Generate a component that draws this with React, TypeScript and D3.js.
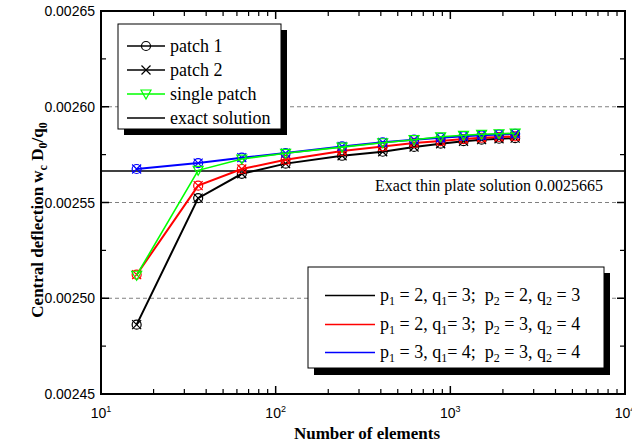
import React from "react";
import * as d3 from "d3";

const elements = [16, 36, 64, 114, 240, 410, 620, 880, 1190, 1510, 1900, 2350];
const black = [0.0024862, 0.0025523, 0.002565, 0.0025703, 0.0025744, 0.0025765, 0.002579, 0.0025807, 0.002582, 0.0025828, 0.0025833, 0.0025836];
const red = [0.0025123, 0.0025588, 0.0025675, 0.0025723, 0.0025769, 0.0025793, 0.0025811, 0.0025821, 0.0025831, 0.0025838, 0.0025842, 0.0025845];
const blue = [0.0025675, 0.0025706, 0.0025734, 0.0025758, 0.0025793, 0.0025814, 0.0025828, 0.0025838, 0.0025846, 0.0025851, 0.0025855, 0.0025859];
const green = [0.002512, 0.0025668, 0.0025727, 0.0025757, 0.0025789, 0.0025812, 0.0025828, 0.0025843, 0.0025851, 0.0025856, 0.0025859, 0.0025862];
const exactValue = 0.0025665;
const yTicks = [0.00245, 0.0025, 0.00255, 0.0026, 0.00265];
const yMinor = [0.002475, 0.002525, 0.002575, 0.002625];
const gridVals = [0.0025, 0.00255, 0.0026];
const xDecades = [1, 2, 3, 4];

const serif = "'Liberation Serif', 'Times New Roman', serif";
const sans = "'Liberation Sans', Arial, sans-serif";

export default function App() {
  const W = 632, H = 448;
  const x = d3.scaleLog().domain([10, 10000]).range([101, 625]);
  const y = d3.scaleLinear().domain([0.00245, 0.00265]).range([394, 11]);
  const line = d3.line<number>().x((_, i) => x(elements[i])).y((d) => y(d));

  const xMinor: number[] = [];
  for (let e = 1; e < 4; e++) for (let k = 2; k <= 9; k++) xMinor.push(k * Math.pow(10, e));

  const series = [
    { vals: black, color: "#000000", w: 2 },
    { vals: red, color: "#ff0000", w: 2 },
    { vals: blue, color: "#0000ff", w: 2 },
  ];

  const circle = (cx: number, cy: number, c: string, k: string) => (
    <circle key={k} cx={cx} cy={cy} r={4.5} fill="none" stroke={c} strokeWidth={1.2} />
  );
  const cross = (cx: number, cy: number, c: string, k: string) => (
    <path key={k} d={`M${cx - 4.5},${cy - 4.5}L${cx + 4.5},${cy + 4.5}M${cx - 4.5},${cy + 4.5}L${cx + 4.5},${cy - 4.5}`} stroke={c} strokeWidth={1.2} fill="none" />
  );
  const tri = (cx: number, cy: number, c: string, k: string) => (
    <path key={k} d={`M${cx - 5},${cy - 4}L${cx + 5},${cy - 4}L${cx},${cy + 5}Z`} stroke={c} strokeWidth={1.2} fill="none" />
  );

  const sub = (t: string) => (
    <tspan baselineShift="-30%" fontSize="12">{t}</tspan>
  );

  const leg2 = [
    { color: "#000000", a: "2", b: "3", c: "2", d: "3" },
    { color: "#ff0000", a: "2", b: "3", c: "3", d: "4" },
    { color: "#0000ff", a: "3", b: "4", c: "3", d: "4" },
  ];

  return (
    <svg width={W} height={H} style={{ position: "absolute", left: 0, top: 0, background: "#fff" }}>
      <rect x={0} y={0} width={W} height={H} fill="#fff" />
      {gridVals.map((v) => (
        <line key={"g" + v} x1={101} x2={625} y1={y(v)} y2={y(v)} stroke="#808080" strokeWidth={1} strokeDasharray="4,3" />
      ))}
      <line x1={101} x2={625} y1={y(exactValue)} y2={y(exactValue)} stroke="#000" strokeWidth={1.5} />
      <text x={603} y={191} textAnchor="end" fontFamily={serif} fontSize={16}>Exact thin plate solution 0.0025665</text>

      {series.map((s, si) => (
        <g key={"s" + si}>
          <path d={line(s.vals) || ""} fill="none" stroke={s.color} strokeWidth={s.w} />
          {s.vals.map((v, i) => circle(x(elements[i]), y(v), s.color, "c" + i))}
          {s.vals.map((v, i) => cross(x(elements[i]), y(v), s.color, "x" + i))}
        </g>
      ))}
      <g>
        <path d={line(green) || ""} fill="none" stroke="#00ff00" strokeWidth={1.6} />
        {green.map((v, i) => tri(x(elements[i]), y(v), "#00ff00", "t" + i))}
      </g>

      {xDecades.map((e) => {
        const px = x(Math.pow(10, e));
        return (
          <g key={"xd" + e}>
            <line x1={px} x2={px} y1={394} y2={386} stroke="#000" strokeWidth={1.5} />
            <line x1={px} x2={px} y1={11} y2={19} stroke="#000" strokeWidth={1.5} />
            <text x={px} y={418} textAnchor="middle" fontFamily={sans} fontSize={14}>
              10<tspan dy={-6} fontSize={9}>{e}</tspan>
            </text>
          </g>
        );
      })}
      {xMinor.map((v) => (
        <g key={"xm" + v}>
          <line x1={x(v)} x2={x(v)} y1={394} y2={389} stroke="#000" strokeWidth={1.2} />
          <line x1={x(v)} x2={x(v)} y1={11} y2={16} stroke="#000" strokeWidth={1.2} />
        </g>
      ))}
      {yTicks.map((v) => (
        <g key={"yt" + v}>
          <line x1={101} x2={109} y1={y(v)} y2={y(v)} stroke="#000" strokeWidth={1.5} />
          <line x1={625} x2={617} y1={y(v)} y2={y(v)} stroke="#000" strokeWidth={1.5} />
          <text x={95} y={y(v) + 5} textAnchor="end" fontFamily={sans} fontSize={14}>{v.toFixed(5)}</text>
        </g>
      ))}
      {yMinor.map((v) => (
        <g key={"ym" + v}>
          <line x1={101} x2={106} y1={y(v)} y2={y(v)} stroke="#000" strokeWidth={1.2} />
          <line x1={625} x2={620} y1={y(v)} y2={y(v)} stroke="#000" strokeWidth={1.2} />
        </g>
      ))}
      <rect x={101} y={11} width={524} height={383} fill="none" stroke="#000" strokeWidth={2} />

      <text x={367} y={439} textAnchor="middle" fontFamily={serif} fontWeight="bold" fontSize={17}>Number of elements</text>
      <text transform="translate(43,220) rotate(-90)" textAnchor="middle" fontFamily={serif} fontWeight="bold" fontSize={17}>
        Central deflection w{sub("c")} D{sub("0")}/q{sub("0")}
      </text>

      <rect x={124} y={30} width={163} height={105} fill="#000" />
      <rect x={118} y={24} width={163} height={105} fill="#fff" stroke="#000" strokeWidth={1} />
      {[
        { label: "patch 1", color: "#000", m: "c" },
        { label: "patch 2", color: "#000", m: "x" },
        { label: "single patch", color: "#00ff00", m: "t" },
        { label: "exact solution", color: "#000", m: "" },
      ].map((d, i) => {
        const ly = 46 + i * 24;
        return (
          <g key={"l1" + i}>
            <line x1={127} x2={165} y1={ly} y2={ly} stroke={d.color} strokeWidth={1.5} />
            {d.m === "c" && circle(146, ly, d.color, "lc")}
            {d.m === "x" && cross(146, ly, d.color, "lx")}
            {d.m === "t" && tri(146, ly, d.color, "lt")}
            <text x={170} y={ly + 6} fontFamily={serif} fontSize={18}>{d.label}</text>
          </g>
        );
      })}

      <rect x={314} y={273} width={296} height={102} fill="#000" />
      <rect x={308} y={267} width={296} height={101} fill="#fff" stroke="#000" strokeWidth={1} />
      {leg2.map((d, i) => {
        const ly = Math.round(295 + i * 28.5);
        return (
          <g key={"l2" + i}>
            <line x1={325} x2={375} y1={ly + 0.5} y2={ly + 0.5} stroke={d.color} strokeWidth={1.5} />
            <text x={380} y={ly + 6} fontFamily={serif} fontSize={18}>
              p{sub("1")} = {d.a}, q{sub("1")}= {d.b};{"\u00a0\u00a0"}p{sub("2")} = {d.c}, q{sub("2")} = {d.d}
            </text>
          </g>
        );
      })}
    </svg>
  );
}
